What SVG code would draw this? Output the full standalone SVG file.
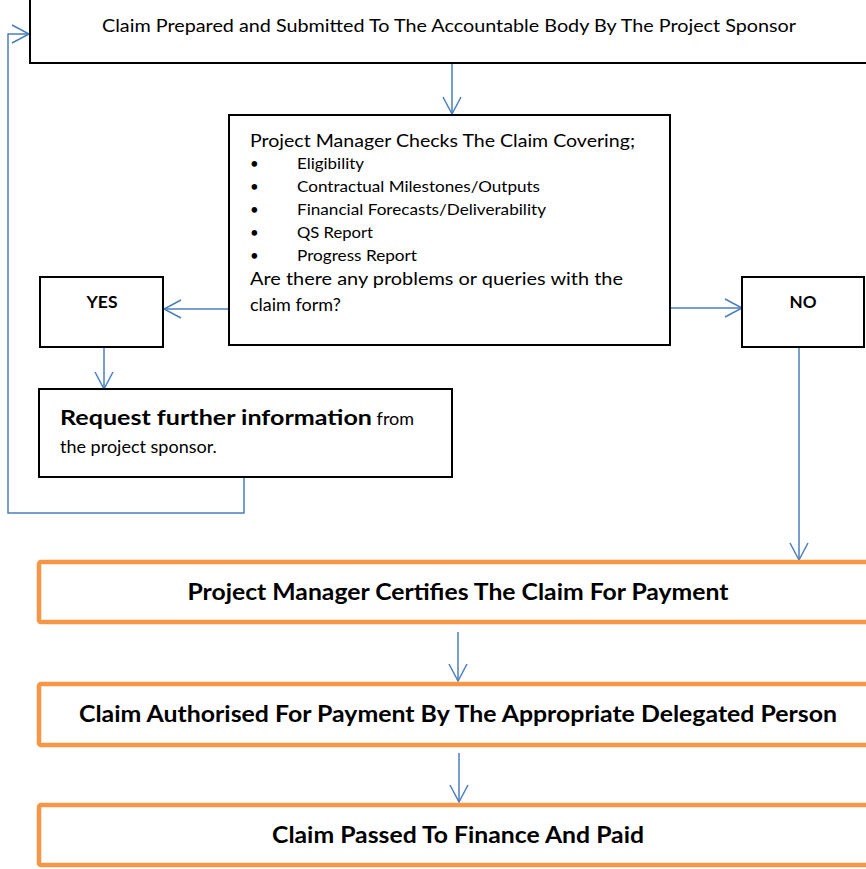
<svg xmlns="http://www.w3.org/2000/svg" width="866" height="869" viewBox="0 0 866 869">
<style>
.box{fill:#fff;stroke:#000;stroke-width:2}
.obox{fill:#fff;stroke:#F79646;stroke-width:4.5}
.t{font-family:Lato,"Liberation Sans",sans-serif;fill:#000}
.b{font-weight:bold}
.c{stroke:#4A7EBB;stroke-width:1.5;fill:none}
</style>
<defs>
<marker id="arr" markerUnits="userSpaceOnUse" markerWidth="20" markerHeight="20" viewBox="-18 -10 20 20" refX="0" refY="0" orient="auto">
<path d="M-17,-9 L0,0 L-17,9" fill="none" stroke="#4A7EBB" stroke-width="1.5"/>
</marker>
</defs>
<rect width="866" height="869" fill="#fff"/>
<g id="connectors">
<path class="c" d="M452,64 V114" marker-end="url(#arr)"/>
<path class="c" d="M229,309 H164" marker-end="url(#arr)"/>
<path class="c" d="M670,308 H742" marker-end="url(#arr)"/>
<path class="c" d="M104,347 V389" marker-end="url(#arr)"/>
<path class="c" d="M799,347 V560" marker-end="url(#arr)"/>
<path class="c" d="M244,477 V513 H8 V34 H29" marker-end="url(#arr)"/>
<path class="c" d="M458,632 V681" marker-end="url(#arr)"/>
<path class="c" d="M459,753 V802" marker-end="url(#arr)"/>
</g>
<g id="submit">
<rect class="box" x="30" y="-5" width="850" height="68"/>
<text class="t" x="449" y="32" font-size="16.5" text-anchor="middle" textLength="694" lengthAdjust="spacingAndGlyphs">Claim Prepared and Submitted To The Accountable Body By The Project Sponsor</text>
</g>
<g id="check">
<rect class="box" x="229" y="115" width="441" height="230"/>
<text class="t" x="250" y="147" font-size="17.5" textLength="385" lengthAdjust="spacingAndGlyphs">Project Manager Checks The Claim Covering;</text>
<g font-size="15" class="t">
<text x="250" y="169">•</text><text x="297" y="169" textLength="67" lengthAdjust="spacingAndGlyphs">Eligibility</text>
<text x="250" y="192">•</text><text x="297" y="192" textLength="243" lengthAdjust="spacingAndGlyphs">Contractual Milestones/Outputs</text>
<text x="250" y="215">•</text><text x="297" y="215" textLength="249" lengthAdjust="spacingAndGlyphs">Financial Forecasts/Deliverability</text>
<text x="250" y="238">•</text><text x="297" y="238" textLength="76" lengthAdjust="spacingAndGlyphs">QS Report</text>
<text x="250" y="261">•</text><text x="297" y="261" textLength="120" lengthAdjust="spacingAndGlyphs">Progress Report</text>
</g>
<text class="t" x="250" y="285" font-size="18" textLength="373" lengthAdjust="spacingAndGlyphs">Are there any problems or queries with the</text>
<text class="t" x="250" y="311" font-size="18">claim form?</text>
</g>
<g id="yes">
<rect class="box" x="40" y="277" width="123" height="70"/>
<text class="t b" x="102" y="308" font-size="17" text-anchor="middle" textLength="31" lengthAdjust="spacingAndGlyphs">YES</text>
</g>
<g id="no">
<rect class="box" x="742" y="277" width="122" height="70"/>
<text class="t b" x="803" y="308" font-size="17" text-anchor="middle" textLength="27" lengthAdjust="spacingAndGlyphs">NO</text>
</g>
<g id="request">
<rect class="box" x="39" y="389" width="413" height="88"/>
<text class="t" x="60" y="425" font-size="20"><tspan class="b" textLength="312" lengthAdjust="spacingAndGlyphs">Request further information</tspan><tspan font-size="18"> from</tspan></text>
<text class="t" x="60" y="453" font-size="18">the project sponsor.</text>
</g>
<g id="certify">
<rect class="obox" x="39" y="562" width="840" height="60" rx="2"/>
<text class="t b" x="458" y="600" font-size="22" text-anchor="middle" textLength="541" lengthAdjust="spacingAndGlyphs">Project Manager Certifies The Claim For Payment</text>
</g>
<g id="authorise">
<rect class="obox" x="39" y="684" width="840" height="61" rx="2"/>
<text class="t b" x="458" y="722" font-size="22" text-anchor="middle" textLength="758" lengthAdjust="spacingAndGlyphs">Claim Authorised For Payment By The Appropriate Delegated Person</text>
</g>
<g id="paid">
<rect class="obox" x="39" y="805" width="840" height="60" rx="2"/>
<text class="t b" x="458" y="843" font-size="22" text-anchor="middle" textLength="372" lengthAdjust="spacingAndGlyphs">Claim Passed To Finance And Paid</text>
</g>
</svg>
